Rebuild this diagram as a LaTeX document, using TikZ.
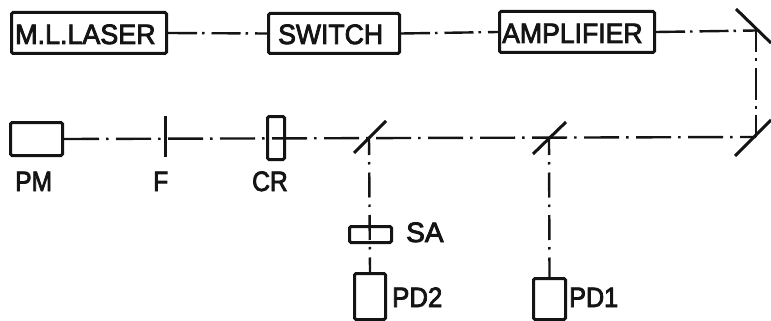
\documentclass[tikz,border=0pt]{standalone}
\usepackage{fontspec}
\setmainfont{Liberation Sans}[FakeBold=3]
\tikzset{
  unit/.style={draw=ink,line width=3pt,rounded corners=1.5pt,inner sep=0pt,fill=white,anchor=north west},
  lbl/.style={inner sep=0pt,font=\fontsize{28}{28}\selectfont,text=ink,anchor=base west},
  optic/.style={draw=ink,line width=3pt},
  beamtop/.style={draw=ink,line width=2.4pt,dash pattern=on 29pt off 5pt on 2.5pt off 7pt},
  beamrow/.style={draw=ink,line width=2.4pt,dash pattern=on 35pt off 7pt on 2.5pt off 7.5pt},
  beamup/.style={draw=ink,line width=2.4pt,dash pattern=on 22pt off 6pt on 2.5pt off 7pt on 32pt off 6pt on 2.5pt off 6pt},
  beamdown/.style={draw=ink,line width=2.4pt,dash pattern=on 25pt off 7pt on 2.5pt off 8pt,dash phase=7pt},
}
\definecolor{ink}{HTML}{141414}
\begin{document}
\begin{tikzpicture}[x=1pt,y=-1pt]
\useasboundingbox[fill=white] (0,0) rectangle (771,321);
% beam anchors
\coordinate (mtop) at (756,30.5);
\coordinate (mbot) at (756,137);
\coordinate (bsa) at (369,137);
\coordinate (bsb) at (549,137);
\coordinate (mtopa) at (736,9);
\coordinate (mtopb) at (771,43);
\coordinate (mbota) at (735,156);
\coordinate (mbotb) at (771,120);
\coordinate (bsa1) at (354,153);
\coordinate (bsa2) at (386,121);
\coordinate (bsb1) at (533,154);
\coordinate (bsb2) at (566,122);
\coordinate (filta) at (165,116);
\coordinate (filtb) at (165,157);
% boxes
\node[unit,minimum width=155pt,minimum height=41pt] (laser) at (10,11) {};
\node[unit,minimum width=131pt,minimum height=40pt] (switch) at (267,12) {};
\node[unit,minimum width=155pt,minimum height=41pt] (amp) at (498,10) {};
\node[unit,minimum width=52pt,minimum height=33pt] (pm) at (9,121) {};
\node[unit,minimum width=17pt,minimum height=43pt,fill=none] (cr) at (266,115) {};
\node[unit,minimum width=42pt,minimum height=16pt,fill=none] (sa) at (348,225) {};
\node[unit,minimum width=31pt,minimum height=46pt] (pdtwo) at (353,272) {};
\node[unit,minimum width=32pt,minimum height=41pt] (pdone) at (532,277) {};
% box texts
\node[lbl,xscale=0.96] (tlaser) at (15,44) {M.L.LASER};
\node[lbl,xscale=0.95] (tswitch) at (278,44) {SWITCH};
\node[lbl,xscale=0.95] (tamp) at (502,43) {AMPLIFIER};
% labels
\node[lbl,xscale=0.88] (lpm) at (15,191) {PM};
\node[lbl,xscale=0.88] (lf) at (153,191) {F};
\node[lbl,xscale=0.88] (lcr) at (252,191) {CR};
\node[lbl] (lsa) at (406,242) {SA};
\node[lbl,xscale=0.92] (lpdtwo) at (392,307) {PD2};
\node[lbl,xscale=0.9] (lpdone) at (569,307) {PD1};
% beams
\draw[beamtop] (laser.east) -- (switch.west);
\draw[beamtop] (switch.east) -- (amp.west);
\draw[beamtop] (amp.east) -- (mtop);
\draw[beamup] (mtop) -- (mbot);
\draw[beamrow] (pm.east) -- (mbot);
\draw[beamdown] (bsa) -- (pdtwo.north);
\draw[beamdown] (bsb) -- (pdone.north);
% optics
\draw[optic] (mtopa) -- (mtopb);
\draw[optic] (mbota) -- (mbotb);
\draw[optic] (bsa1) -- (bsa2);
\draw[optic] (bsb1) -- (bsb2);
\draw[optic] (filta) -- (filtb);
\end{tikzpicture}
\end{document}
